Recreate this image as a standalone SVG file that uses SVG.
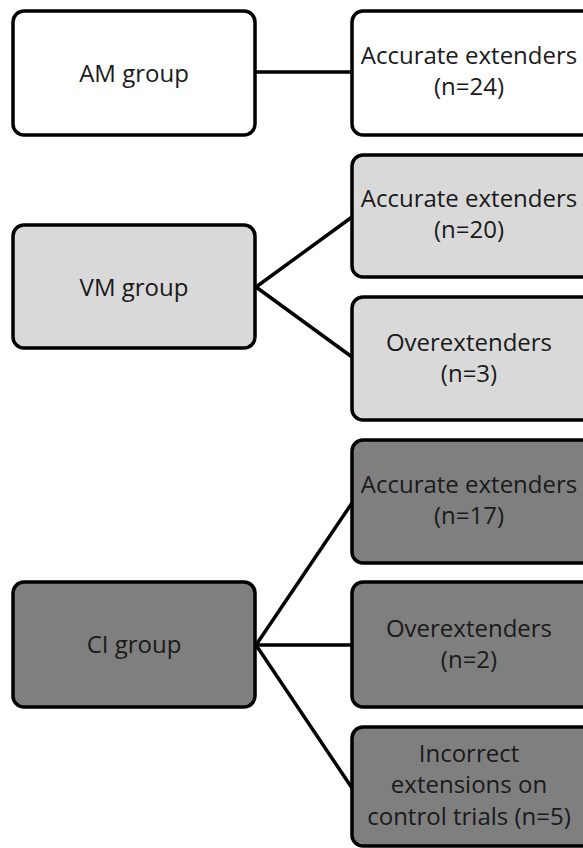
<svg xmlns="http://www.w3.org/2000/svg" width="583" height="848" viewBox="0 0 583 848">
<style>
.box{stroke:#000;stroke-width:3.5}
.w{fill:#ffffff}
.l{fill:#d9d9d9}
.d{fill:#7f7f7f}
text{font-family:"Open Sans","Noto Sans","DejaVu Sans",sans-serif;font-size:24px;fill:#1a1a1a;text-anchor:middle}
.conn line{stroke:#000;stroke-width:3.5;stroke-linecap:round}
</style>
<rect width="583" height="848" fill="#ffffff"/>
<g class="conn" id="connectors">
<line x1="255" y1="72" x2="352" y2="72"/>
<line x1="256" y1="287" x2="352" y2="217"/>
<line x1="256" y1="287" x2="352" y2="357"/>
<line x1="256" y1="645" x2="352" y2="503"/>
<line x1="256" y1="645" x2="352" y2="645"/>
<line x1="256" y1="645" x2="352" y2="788"/>
</g>
<g id="am-group">
<rect class="box w" x="13" y="11" width="242" height="124" rx="11"/>
<text x="134" y="82">AM group</text>
</g>
<g id="am-accurate">
<rect class="box w" x="352" y="11" width="245" height="124" rx="11"/>
<text x="469" y="64">Accurate extenders</text>
<text x="469" y="95">(n=24)</text>
</g>
<g id="vm-group">
<rect class="box l" x="13" y="225" width="242" height="123" rx="11"/>
<text x="134" y="296">VM group</text>
</g>
<g id="vm-accurate">
<rect class="box l" x="352" y="155" width="245" height="122" rx="11"/>
<text x="469" y="207">Accurate extenders</text>
<text x="469" y="238">(n=20)</text>
</g>
<g id="vm-over">
<rect class="box l" x="352" y="297" width="245" height="123" rx="11"/>
<text x="469" y="351">Overextenders</text>
<text x="469" y="382">(n=3)</text>
</g>
<g id="ci-group">
<rect class="box d" x="13" y="582" width="242" height="125" rx="11"/>
<text x="134" y="653">CI group</text>
</g>
<g id="ci-accurate">
<rect class="box d" x="352" y="440" width="245" height="123" rx="11"/>
<text x="469" y="493">Accurate extenders</text>
<text x="469" y="524">(n=17)</text>
</g>
<g id="ci-over">
<rect class="box d" x="352" y="582" width="245" height="125" rx="11"/>
<text x="469" y="637">Overextenders</text>
<text x="469" y="668">(n=2)</text>
</g>
<g id="ci-incorrect">
<rect class="box d" x="352" y="727" width="245" height="119" rx="11"/>
<text x="469" y="762">Incorrect</text>
<text x="469" y="793">extensions on</text>
<text x="469" y="825">control trials (n=5)</text>
</g>
</svg>
